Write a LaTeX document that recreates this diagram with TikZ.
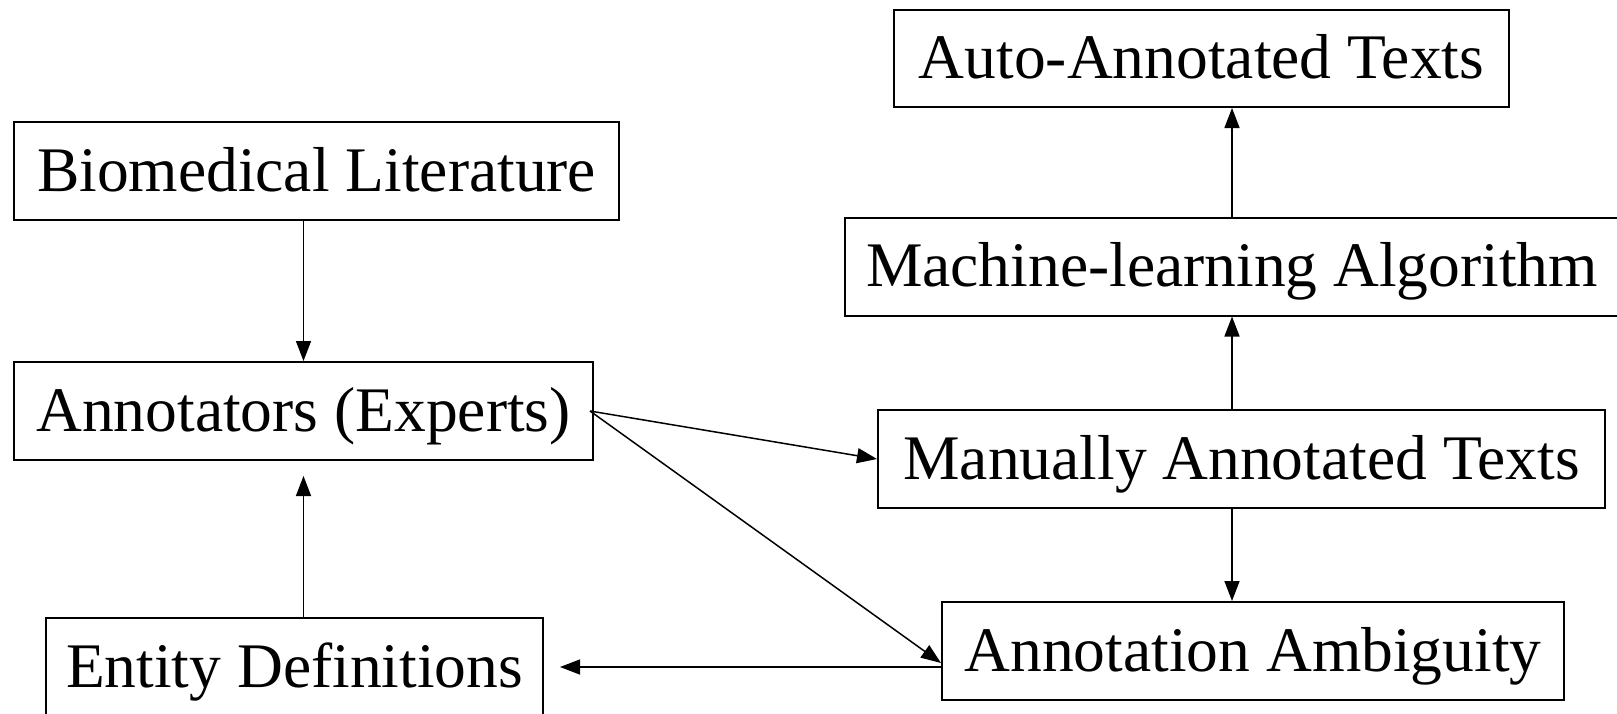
\documentclass[tikz,border=0pt]{standalone}
\usepackage{fontspec}
\setmainfont{Liberation Serif}
\usetikzlibrary{arrows.meta}
\begin{document}
\begin{tikzpicture}[x=1pt,y=-1pt,
  box/.style={draw, line width=2pt, inner sep=0pt, minimum height=98pt,
    text height=40pt, text depth=0pt, align=center,
    font=\fontsize{63.5}{70}\selectfont},
  arr/.style={line width=1.5pt, -{Triangle[length=20pt,width=15pt]}},
  ln/.style={line width=1.5pt}]
\useasboundingbox (0,0) rectangle (1617,713);
\node[box, minimum width=615pt, minimum height=97pt] (auto) at (1201.5,58.5) {Auto-Annotated Texts};
\node[box, minimum width=605pt] (bio) at (316.5,171) {Biomedical Literature};
\node[box, minimum width=774pt] (ml) at (1232,266.5) {Machine-learning Algorithm};
\node[box, minimum width=579pt] (ann) at (303.5,411) {Annotators (Experts)};
\node[box, minimum width=727pt] (man) at (1241.5,459) {Manually Annotated Texts};
\node[box, minimum width=622pt] (amb) at (1253,651) {Annotation Ambiguity};
\node[box, minimum width=497pt] (ent) at (294.5,667) {Entity Definitions};
\coordinate (annout) at ([xshift=-4pt]ann.east);
\coordinate (ambin) at ([yshift=-12pt]amb.west);
\draw[arr] (bio.south -| ann.north) -- (ann.north);
\draw[arr, shorten >=15pt] (ent.north -| ann.south) -- (ann.south);
\draw[arr] (annout) -- (man.west);
\draw[arr] (annout) -- (ambin);
\draw[arr] (man.north -| ml.south) -- (ml.south);
\draw[arr] (ml.north) -- (ml.north |- auto.south);
\draw[arr] (man.south -| ml.south) -- (amb.north -| ml.south);
\draw[arr, shorten >=16pt] (amb.west |- ent.east) -- (ent.east);
\end{tikzpicture}
\end{document}
